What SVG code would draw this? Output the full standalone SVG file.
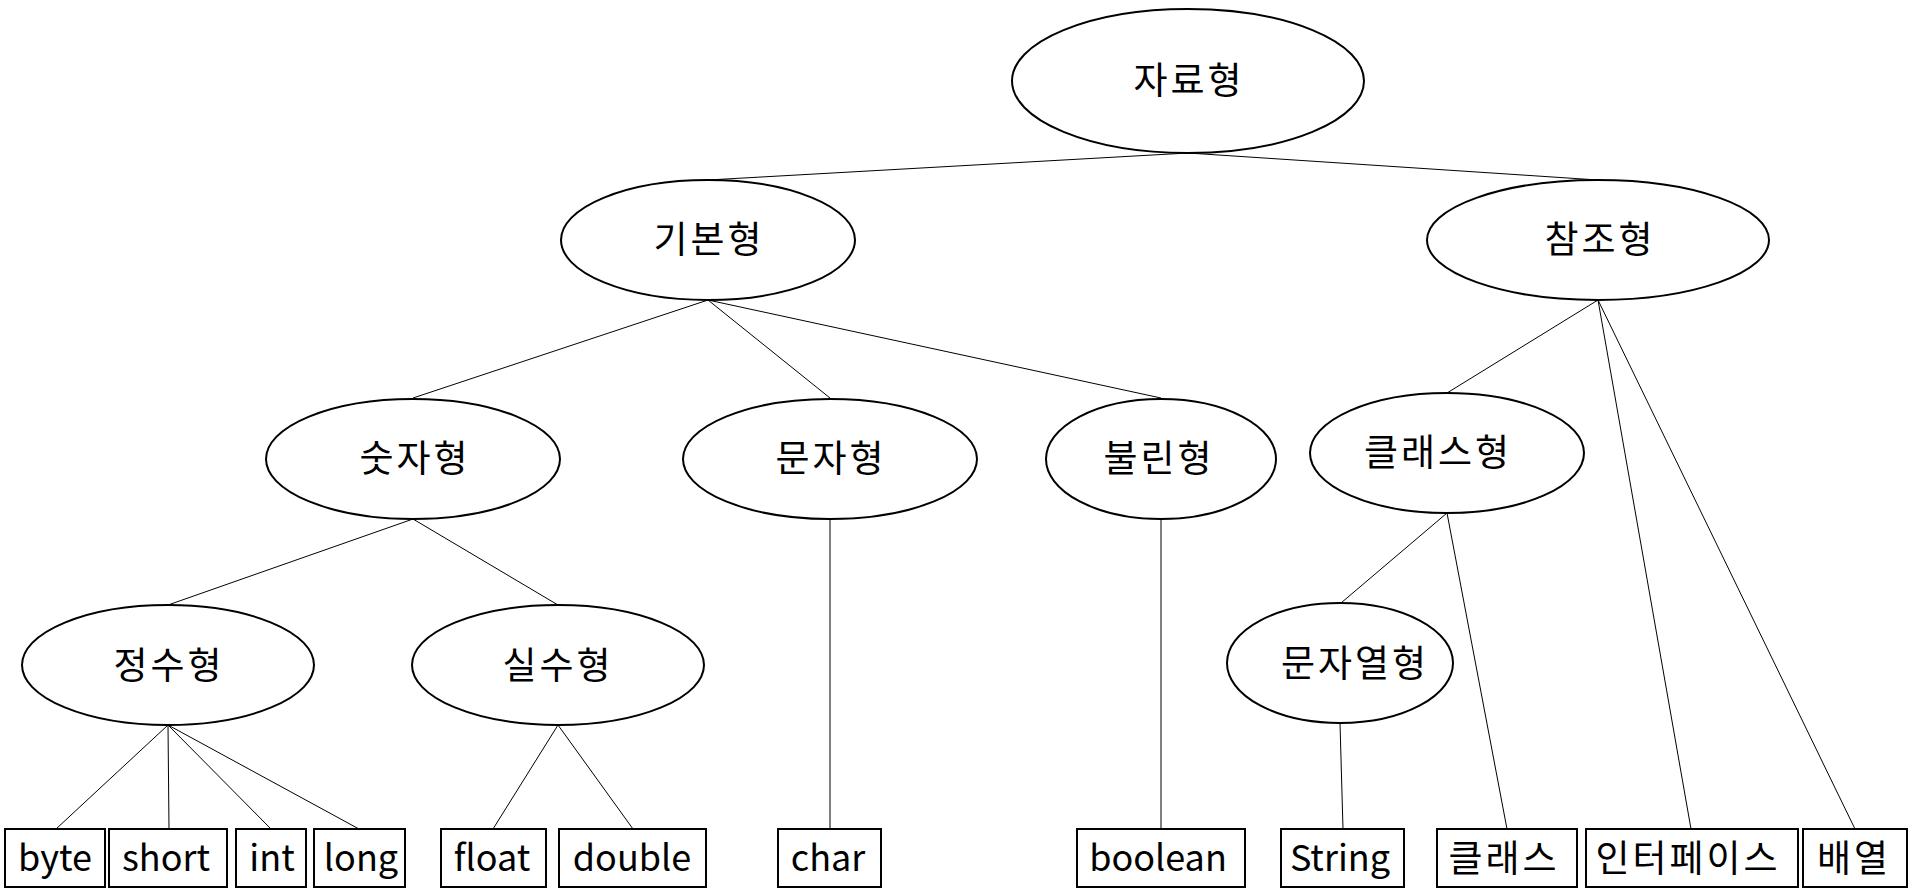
<svg xmlns="http://www.w3.org/2000/svg" width="1914" height="893" viewBox="0 0 1914 893">
<style>
.n{fill:#fff;stroke:#000;stroke-width:2}
.t{font-family:"Noto Sans CJK KR","Noto Sans",sans-serif;font-size:37px;fill:#000;text-anchor:middle}
.k{letter-spacing:3px}
.l{font-size:36px}
#connectors line{stroke:#000;stroke-width:1}
</style>
<rect width="1914" height="893" fill="#fff"/>
<g id="connectors">
<line x1="1188" y1="153" x2="708" y2="180"/>
<line x1="1188" y1="153" x2="1598" y2="180"/>
<line x1="708" y1="300" x2="413" y2="398"/>
<line x1="708" y1="300" x2="830" y2="398"/>
<line x1="708" y1="300" x2="1161" y2="398"/>
<line x1="1598" y1="300" x2="1447" y2="393"/>
<line x1="1598" y1="300" x2="1691" y2="829"/>
<line x1="1598" y1="300" x2="1855" y2="829"/>
<line x1="413" y1="519" x2="168" y2="605"/>
<line x1="413" y1="519" x2="558" y2="605"/>
<line x1="830" y1="519" x2="830" y2="829"/>
<line x1="1161" y1="519" x2="1161" y2="829"/>
<line x1="1447" y1="513" x2="1341" y2="603"/>
<line x1="1447" y1="513" x2="1507" y2="829"/>
<line x1="1340" y1="723" x2="1343" y2="829"/>
<line x1="168" y1="725" x2="56" y2="829"/>
<line x1="168" y1="725" x2="169" y2="829"/>
<line x1="168" y1="725" x2="271" y2="829"/>
<line x1="168" y1="725" x2="359" y2="829"/>
<line x1="558" y1="725" x2="493" y2="829"/>
<line x1="558" y1="725" x2="633" y2="829"/>
</g>
<g id="n-jaryohyeong"><ellipse class="n" cx="1188" cy="81" rx="176" ry="72"/><text class="t k" x="1189" y="94">자료형</text></g>
<g id="n-gibonhyeong"><ellipse class="n" cx="708" cy="240" rx="147" ry="60"/><text class="t k" x="709" y="253">기본형</text></g>
<g id="n-chamjohyeong"><ellipse class="n" cx="1598" cy="240" rx="171" ry="60"/><text class="t k" x="1600" y="253">참조형</text></g>
<g id="n-sutjahyeong"><ellipse class="n" cx="413" cy="459" rx="147" ry="60"/><text class="t k" x="415" y="472">숫자형</text></g>
<g id="n-munjahyeong"><ellipse class="n" cx="830" cy="459" rx="147" ry="60"/><text class="t k" x="831" y="472">문자형</text></g>
<g id="n-bullinhyeong"><ellipse class="n" cx="1161" cy="459" rx="115" ry="60"/><text class="t k" x="1159" y="472">불린형</text></g>
<g id="n-keullaeseuhyeong"><ellipse class="n" cx="1447" cy="453" rx="137" ry="60"/><text class="t k" x="1438" y="466">클래스형</text></g>
<g id="n-jeongsuhyeong"><ellipse class="n" cx="168" cy="665" rx="146" ry="60"/><text class="t k" x="169" y="679">정수형</text></g>
<g id="n-silsuhyeong"><ellipse class="n" cx="558" cy="665" rx="146" ry="60"/><text class="t k" x="558" y="679">실수형</text></g>
<g id="n-munjayeolhyeong"><ellipse class="n" cx="1340" cy="663" rx="113" ry="60"/><text class="t k" x="1355" y="677">문자열형</text></g>
<g id="b-byte"><rect class="n" x="5" y="829" width="100" height="58"/><text class="t l" x="55" y="871">byte</text></g>
<g id="b-short"><rect class="n" x="109" y="829" width="118" height="58"/><text class="t l" x="166" y="871">short</text></g>
<g id="b-int"><rect class="n" x="236" y="829" width="70" height="58"/><text class="t l" x="272" y="871">int</text></g>
<g id="b-long"><rect class="n" x="314" y="829" width="91" height="58"/><text class="t l" x="361" y="871">long</text></g>
<g id="b-float"><rect class="n" x="441" y="829" width="105" height="58"/><text class="t l" x="492" y="871">float</text></g>
<g id="b-double"><rect class="n" x="559" y="829" width="147" height="58"/><text class="t l" x="632" y="871">double</text></g>
<g id="b-char"><rect class="n" x="778" y="829" width="103" height="58"/><text class="t l" x="828" y="871">char</text></g>
<g id="b-boolean"><rect class="n" x="1077" y="829" width="168" height="58"/><text class="t l" x="1158" y="871">boolean</text></g>
<g id="b-string"><rect class="n" x="1281" y="829" width="123" height="58"/><text class="t l" x="1340" y="871">String</text></g>
<g id="b-class"><rect class="n" x="1437" y="829" width="140" height="58"/><text class="t k" x="1504" y="872">클래스</text></g>
<g id="b-interface"><rect class="n" x="1586" y="829" width="212" height="58"/><text class="t k" x="1688" y="872">인터페이스</text></g>
<g id="b-array"><rect class="n" x="1803" y="829" width="104" height="58"/><text class="t k" x="1854" y="872">배열</text></g>
</svg>
